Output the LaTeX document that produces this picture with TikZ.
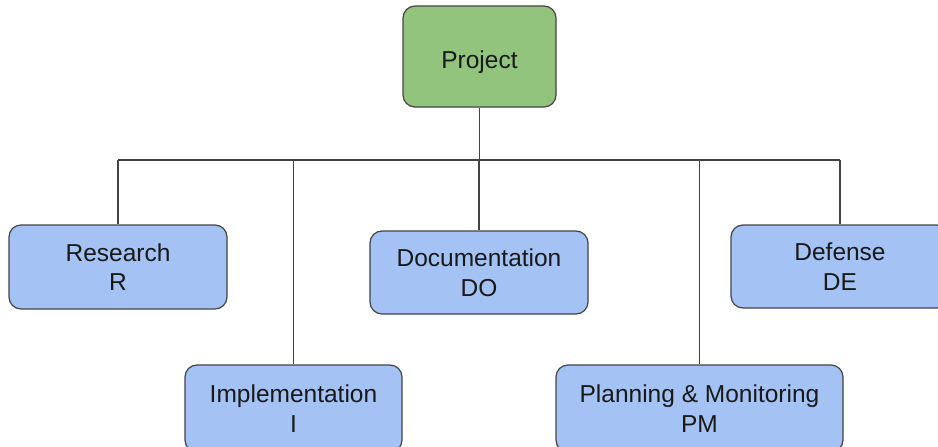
\documentclass[tikz,border=0pt]{standalone}
\usepackage{fontspec}
\setmainfont{Liberation Sans}
\definecolor{boxgreen}{HTML}{93C47D}
\definecolor{boxblue}{HTML}{A4C2F4}
\definecolor{edge}{HTML}{434343}
\begin{document}
\begin{tikzpicture}[x=1pt,y=-1pt,
  box/.style={draw=edge, line width=1.2pt, rounded corners=12pt, inner sep=0pt,
    align=center, font=\fontsize{24.5}{29.5}\selectfont, text=black!90},
  link/.style={draw=edge, line width=1.3pt}]
\useasboundingbox (0,0) rectangle (938,447);
\clip (0,0) rectangle (938,447);
\node[box, fill=boxgreen, minimum width=153pt, minimum height=101pt] (P) at (479.5,56.5) {\raisebox{-5.5pt}[17.5pt][5pt]{Project}};
\node[box, fill=boxblue, minimum width=218pt, minimum height=84pt] (R) at (118,267) {Research\\R};
\node[box, fill=boxblue, minimum width=218pt, minimum height=83pt] (DO) at (479,272.5) {Documentation\\DO};
\node[box, fill=boxblue, minimum width=218pt, minimum height=83pt] (DE) at (840,266.5) {Defense\\DE};
\node[box, fill=boxblue, minimum width=217pt, minimum height=87pt] (I) at (293.5,408.5) {Implementation\\I};
\node[box, fill=boxblue, minimum width=287pt, minimum height=87pt] (PM) at (699.5,408.5) {Planning \& Monitoring\\PM};
\coordinate (bar) at (0,160);
\draw[link] (P.south) -- (P.south |- bar);
\draw[link] (R.north |- bar) -- (DE.north |- bar);
\draw[link] (R.north) -- (R.north |- bar);
\draw[link] (I.north) -- (I.north |- bar);
\draw[link] (DO.north) -- (DO.north |- bar);
\draw[link] (PM.north) -- (PM.north |- bar);
\draw[link] (DE.north) -- (DE.north |- bar);
\end{tikzpicture}
\end{document}
